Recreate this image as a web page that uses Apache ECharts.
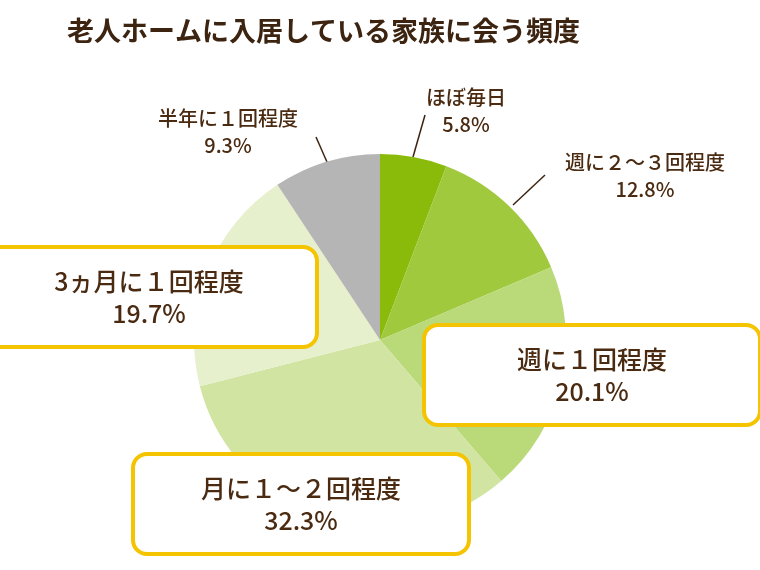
<!DOCTYPE html>
<html><head><meta charset="utf-8">
<script src="https://cdn.jsdelivr.net/npm/echarts@6/dist/echarts.min.js"></script>
<style>html,body{margin:0;background:#fff}#c{width:760px;height:570px}</style>
</head><body><div id="c"></div>
<script>
var names = ['ほぼ毎日', '週に２～３回程度', '週に１回程度', '月に１～２回程度', '3ヵ月に１回程度', '半年に１回程度'];
var values = [5.8, 12.8, 20.1, 32.3, 19.7, 9.3];
var colors = ['#8aba0a', '#a0c93e', '#bad978', '#d1e4a2', '#e6f0cd', '#b5b5b5'];
var boxed = [false, false, true, true, true, false];
// label centres, and where the leader line starts on the label side
var labelPos = [[466, 111], [645, 176], [592, 375], [301, 504], [149, 297], [228, 132]];
var linePts = [[[425, 115], [413, 157]], [[545, 175], [513, 205]], null, null, null, [[316, 137], [327, 162]]];

var chart = echarts.init(document.getElementById('c'));
chart.setOption({
    title: {
        text: '老人ホームに入居している家族に会う頻度',
        left: 62, top: 12,
        textStyle: {fontFamily: 'Noto Sans CJK JP', fontSize: 27, fontWeight: 'bold', color: '#3d2410'}
    },
    series: [{
        type: 'pie',
        center: [380, 340],
        radius: 186,
        startAngle: 90,
        clockwise: true,
        silent: true,
        data: values.map(function (v, i) {
            var d = {name: names[i], value: v, itemStyle: {color: colors[i]}};
            if (boxed[i]) {
                d.label = {
                    fontSize: 25, lineHeight: 32,
                    backgroundColor: '#fff', borderColor: '#f5c400', borderWidth: 4,
                    borderRadius: 12, padding: [16, 16]
                };
                d.labelLine = {show: false};
            }
            return d;
        }),
        label: {
            position: 'outside',
            formatter: '{b}\n{c}%',
            fontFamily: 'Noto Sans CJK JP',
            fontWeight: 500,
            fontSize: 20, lineHeight: 27,
            color: '#4a2a10',
            align: 'center',
            overflow: 'none',
            width: 300
        },
        labelLine: {show: true, lineStyle: {color: '#3d2410', width: 1.5}},
        labelLayout: function (p) {
            var i = p.dataIndex;
            var r = {x: labelPos[i][0], y: labelPos[i][1], align: 'center', verticalAlign: 'middle'};
            if (linePts[i]) r.labelLinePoints = [linePts[i][1], linePts[i][0], linePts[i][0]];
            return r;
        }
    }]
});
</script></body></html>
